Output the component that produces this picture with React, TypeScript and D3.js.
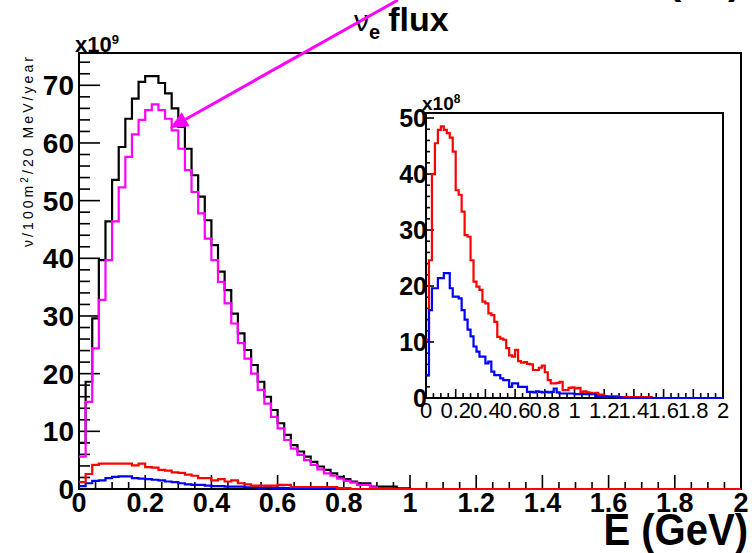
import React, { useRef, useEffect } from 'react';
import * as d3 from 'd3';

// 20 MeV bins, 0..2 GeV
const NBINS = 100;
const BIN_W = 0.02;

// main plot, units of 1e9
const totalFlux = [8.0, 18.6, 29.6, 39.7, 46.4, 53.6, 59.3, 64.2, 67.7, 70.6, 71.6, 71.6, 70.4, 68.6, 66.0,
  62.8, 59.0, 54.4, 50.7, 46.6, 42.3, 37.7, 34.5, 30.4, 27.0, 24.1, 21.5, 18.6, 16.0, 13.7, 11.4, 9.4,
  7.6, 6.5, 5.6, 4.7, 3.9, 3.3, 2.7, 2.1, 1.7, 1.3, 1.0, 1.0, 0.4, 0.4, 0.4, 0.4, 0.1, 0.1];
const numuFlux = [5.6, 15.1, 24.4, 32.8, 39.7, 46.4, 52.3, 57.6, 61.5, 64.0, 65.7, 66.7, 65.7, 64.2, 62.2,
  59.0, 55.3, 51.5, 47.8, 43.4, 39.7, 35.9, 32.2, 28.7, 25.3, 22.6, 20.0, 17.2, 14.8, 12.5, 10.5, 8.5,
  7.0, 5.9, 5.0, 4.2, 3.4, 2.7, 2.3, 1.8, 1.4, 1.1, 0.7, 0.7, 0.3];
const numubarFlux = [1.2, 2.6, 4.2, 4.4, 4.4, 4.4, 4.4, 4.4, 4.1, 4.4, 3.8, 3.7, 3.3, 3.2, 2.9, 2.8, 2.5,
  2.3, 1.9, 1.9, 1.5, 1.7, 1.3, 1.5, 1.0, 0.8, 0.6, 0.6, 0.6, 0.6, 0.7, 0.7, 0.35, 0.35, 0.35, 0.35,
  0.35, 0.35, 0.35, 0.15, 0.15];
const nueFluxMain = [0.5, 1.0, 1.4, 1.5, 1.9, 2.1, 2.2, 2.2, 1.9, 1.8, 1.7, 1.6, 1.5, 1.3, 1.2, 1.0, 0.8,
  0.7, 0.7, 0.6, 0.5, 0.5, 0.4, 0.4, 0.4, 0.3, 0.3, 0.2, 0.3, 0.2, 0.2, 0.15, 0.15, 0.15, 0.15, 0.1,
  0.1, 0.1];

// inset, units of 1e8
const insetRed = [10.4, 24.6, 40.0, 45.5, 47.9, 48.5, 47.9, 47.3, 46.5, 44.0, 37.1, 36.3, 33.3, 29.1,
  28.8, 24.6, 20.8, 19.9, 19.3, 17.2, 16.9, 15.1, 14.8, 13.6, 10.9, 10.6, 10.4, 8.9, 7.6, 7.4, 8.6, 6.6,
  6.3, 6.4, 6.1, 6.0, 5.0, 5.0, 5.4, 5.8, 4.6, 3.2, 2.6, 2.6, 2.7, 2.9, 1.4, 1.4, 1.8, 1.9, 1.7, 1.8,
  1.1, 1.2, 1.0, 0.9, 0.8, 0.9, 0.6, 0.6, 0.3, 0.3, 0.3, 0.3, 0.3, 0.15, 0.15, 0.15, 0.15, 0.15, 0.15,
  0.15, 0.15, 0.15, 0.15, 0.15];
const insetBlue = [4.1, 15.7, 19.6, 19.6, 21.4, 21.4, 22.3, 22.3, 19.6, 18.1, 18.1, 17.8, 15.7, 14.0,
  12.2, 11.0, 9.2, 8.3, 7.4, 7.4, 6.2, 6.5, 4.7, 4.1, 4.1, 3.5, 3.2, 3.2, 2.0, 2.6, 2.6, 2.0, 2.0, 2.0,
  1.1, 1.1, 1.0, 1.2, 1.1, 1.0, 1.1, 1.0, 1.1, 1.7, 1.0, 0.8, 0.8, 0.8, 0.8, 0.8, 0.7, 0.7, 0.7, 0.7,
  0.7, 0.7, 0.7, 0.3, 0.3, 0.3, 0.3, 0.2, 0.2, 0.2, 0.1, 0.1];

const xTicks = [0, 0.2, 0.4, 0.6, 0.8, 1, 1.2, 1.4, 1.6, 1.8, 2];
const xTickLabels = ['0', '0.2', '0.4', '0.6', '0.8', '1', '1.2', '1.4', '1.6', '1.8', '2'];
const yTicksMain = [0, 10, 20, 30, 40, 50, 60, 70];
const yTicksInset = [0, 10, 20, 30, 40, 50];

const FONT = '"Liberation Sans", Arial, sans-serif';

const pad = vals => d3.range(NBINS).map(i => vals[i] ?? 0);

function stepPath(vals, x, y) {
  const v = pad(vals);
  const pts = v.map((d, i) => [i * BIN_W, d]);
  pts.push([NBINS * BIN_W, v[NBINS - 1]]);
  return d3.line()
    .x(d => x(d[0]))
    .y(d => y(d[1]))
    .curve(d3.curveStepAfter)(pts);
}

function drawTicks(g, x, y, opt) {
  const { x0, y0, xMajor, xMinor, yMajor, yMinor } = opt;
  const yhi = y.domain()[1];
  // y ticks, inward
  d3.range(0, yhi, 2).forEach(v => {
    const len = v % 10 === 0 ? yMajor : yMinor;
    g.append('line')
      .attr('x1', x0).attr('x2', x0 + len)
      .attr('y1', y(v)).attr('y2', y(v))
      .attr('stroke', '#000').attr('stroke-width', 1.6);
  });
  // x ticks, inward
  d3.range(0, 41).forEach(k => {
    const v = k * 0.05;
    const len = k % 4 === 0 ? xMajor : xMinor;
    g.append('line')
      .attr('x1', x(v)).attr('x2', x(v))
      .attr('y1', y0).attr('y2', y0 - len)
      .attr('stroke', '#000').attr('stroke-width', 1.6);
  });
}

export default function App() {
  const ref = useRef(null);

  useEffect(() => {
    const svg = d3.select(ref.current);
    svg.selectAll('*').remove();

    const x = d3.scaleLinear().domain([0, 2]).range([79, 741]);
    const y = d3.scaleLinear().domain([0, 75.6]).range([489, 53]);
    const xi = d3.scaleLinear().domain([0, 2]).range([426, 723]);
    const yi = d3.scaleLinear().domain([0, 50.9]).range([398, 113]);

    svg.append('rect').attr('width', 752).attr('height', 553).attr('fill', '#fff');

    // main frame + ticks
    const main = svg.append('g');
    main.append('rect')
      .attr('x', x(0)).attr('y', y(75.6))
      .attr('width', x(2) - x(0)).attr('height', y(0) - y(75.6))
      .attr('fill', 'none').attr('stroke', '#000').attr('stroke-width', 2);
    drawTicks(main, x, y, { x0: x(0), y0: y(0), xMajor: 14, xMinor: 7, yMajor: 21, yMinor: 11 });

    const hist = (g, vals, color, sx, sy) => g.append('path')
      .attr('d', stepPath(vals, sx, sy))
      .attr('fill', 'none').attr('stroke', color).attr('stroke-width', 2.2);

    hist(main, totalFlux, '#000', x, y);
    hist(main, numuFlux, '#ff00ff', x, y);
    hist(main, nueFluxMain, '#0000ff', x, y);
    hist(main, numubarFlux, '#ff0000', x, y);

    // main labels
    main.selectAll('text.ylab').data(yTicksMain).enter().append('text')
      .attr('x', 74).attr('y', d => y(d) + 10)
      .attr('text-anchor', 'end')
      .style('font-family', FONT).style('font-weight', 'bold').style('font-size', '28px')
      .text(d => d);
    main.selectAll('text.xlab').data(xTicks).enter().append('text')
      .attr('x', d => x(d)).attr('y', 512)
      .attr('text-anchor', 'middle')
      .style('font-family', FONT).style('font-weight', 'bold').style('font-size', '27px')
      .text((d, i) => xTickLabels[i]);

    const mult = main.append('text').attr('x', 75).attr('y', 52)
      .style('font-family', FONT).style('font-weight', 'bold').style('font-size', '22px');
    mult.append('tspan').text('x10');
    mult.append('tspan').attr('dy', -8).style('font-size', '13px').text('9');

    // axis title, condensed like the original
    main.append('text')
      .attr('transform', 'translate(748,545) scale(0.89,1)')
      .attr('text-anchor', 'end')
      .style('font-family', FONT).style('font-weight', 'bold').style('font-size', '45px')
      .text('E (GeV)');

    const ytitle = main.append('text')
      .attr('transform', 'translate(33,57) rotate(-90)')
      .attr('text-anchor', 'end')
      .attr('textLength', 190).attr('lengthAdjust', 'spacing')
      .style('font-family', FONT).style('font-size', '14px');
    ytitle.append('tspan').text('ν/100m');
    ytitle.append('tspan').attr('dy', -5).style('font-size', '10px').text('2');
    ytitle.append('tspan').attr('dy', 5).text('/20 MeV/year');

    // inset
    const inset = svg.append('g');
    inset.append('rect')
      .attr('x', xi(0)).attr('y', yi(50.9))
      .attr('width', xi(2) - xi(0)).attr('height', yi(0) - yi(50.9))
      .attr('fill', '#fff').attr('stroke', '#000').attr('stroke-width', 2);
    drawTicks(inset, xi, yi, { x0: xi(0), y0: yi(0), xMajor: 9, xMinor: 5, yMajor: 8, yMinor: 4 });
    hist(inset, insetRed, '#ff0000', xi, yi);
    hist(inset, insetBlue, '#0000ff', xi, yi);

    inset.selectAll('text.ylab').data(yTicksInset).enter().append('text')
      .attr('x', 427).attr('y', d => yi(d) + 9)
      .attr('text-anchor', 'end')
      .style('font-family', FONT).style('font-weight', 'bold').style('font-size', '25px')
      .text(d => d);
    inset.selectAll('text.xlab').data(xTicks).enter().append('text')
      .attr('x', d => xi(d)).attr('y', 418)
      .attr('text-anchor', 'middle')
      .style('font-family', FONT).style('font-size', '22px')
      .text((d, i) => xTickLabels[i]);
    const mult8 = inset.append('text').attr('x', 422).attr('y', 110)
      .style('font-family', FONT).style('font-weight', 'bold').style('font-size', '19px');
    mult8.append('tspan').text('x10');
    mult8.append('tspan').attr('dy', -7).style('font-size', '12px').text('8');

    // title
    const title = svg.append('text').attr('x', 354).attr('y', 31)
      .style('font-family', FONT).style('font-weight', 'bold');
    title.append('tspan').style('font-size', '30px').style('font-weight', 'normal').text('ν');
    title.append('tspan').attr('dy', 8).style('font-size', '20px').text('e');
    title.append('tspan').attr('dy', -8).attr('dx', 8).style('font-size', '34px').text('flux');

    // cut-off text at the very top
    ['(', ')'].forEach((c, i) => svg.append('text')
      .attr('x', i === 0 ? 668 : 728).attr('y', -6)
      .style('font-family', FONT).style('font-weight', 'bold').style('font-size', '40px')
      .text(c));

    // arrow
    const tip = [170, 128], start = [398, 0];
    const ang = Math.atan2(tip[1] - start[1], tip[0] - start[0]);
    const hl = 18, hw = 8;
    const base = [tip[0] - hl * Math.cos(ang), tip[1] - hl * Math.sin(ang)];
    svg.append('line')
      .attr('x1', start[0]).attr('y1', start[1]).attr('x2', base[0]).attr('y2', base[1])
      .attr('stroke', '#ff00ff').attr('stroke-width', 3);
    const px = -Math.sin(ang), py = Math.cos(ang);
    svg.append('path')
      .attr('d', d3.line()([tip, [base[0] + hw * px, base[1] + hw * py], [base[0] - hw * px, base[1] - hw * py]]) + 'Z')
      .attr('fill', '#ff00ff');
  }, []);

  return <svg ref={ref} width={752} height={553} style={{ position: 'absolute', left: 0, top: 0 }} />;
}
